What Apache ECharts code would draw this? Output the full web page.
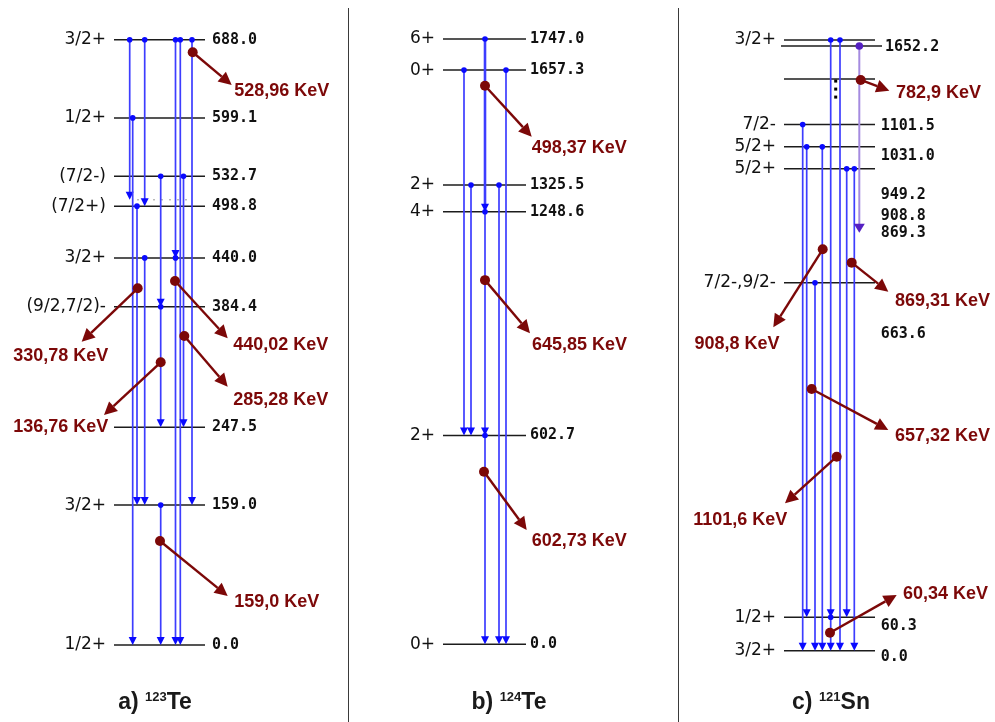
<!DOCTYPE html>
<html>
<head>
<meta charset="utf-8">
<script src="https://cdn.jsdelivr.net/npm/echarts@6/dist/echarts.min.js"></script>
<style>
  html, body { margin: 0; padding: 0; background: #ffffff; }
  #chart { width: 995px; height: 722px; }
</style>
</head>
<body>
<div id="chart"></div>
<script>
// ---------- 123Te level scheme ----------
const te123Levels = [688.0, 599.1, 532.7, 498.8, 440.0, 384.4, 247.5, 159.0, 0.0];
const te123Spins  = ['3/2+', '1/2+', '(7/2-)', '(7/2+)', '3/2+', '(9/2,7/2)-', '', '3/2+', '1/2+'];
const te123Dotted = [506.0];                       // unlabelled, dotted level
const te123From   = [688.0, 599.1, 498.8, 688.0, 440.0, 532.7, 384.4, 159.0, 688.0, 440.0, 688.0, 532.7, 688.0];
const te123To     = [506.0, 0.0,   159.0, 498.8, 159.0, 384.4, 247.5, 0.0,   440.0, 0.0,   0.0,   247.5, 159.0];
const te123Gammas = ['528,96 KeV', '330,78 KeV', '440,02 KeV', '285,28 KeV', '136,76 KeV', '159,0 KeV'];

// ---------- 124Te level scheme ----------
const te124Levels = [1747.0, 1657.3, 1325.5, 1248.6, 602.7, 0.0];
const te124Spins  = ['6+', '0+', '2+', '4+', '2+', '0+'];
const te124From   = [1747.0, 1248.6, 602.7, 1657.3, 1325.5, 1325.5, 1657.3];
const te124To     = [1248.6, 602.7,  0.0,   602.7,  602.7,  0.0,    0.0];
const te124Gammas = ['498,37 KeV', '645,85 KeV', '602,73 KeV'];

// ---------- 121Sn level scheme ----------
const sn121Levels = [1652.2, 1101.5, 1031.0, 949.2, 908.8, 869.3, 663.6, 60.3, 0.0];
const sn121Spins  = ['', '3/2+', '', '7/2-', '5/2+', '5/2+', '7/2-,9/2-', '1/2+', '3/2+'];
const sn121From   = [949.2, 908.8, 663.6, 908.8, 1101.5, 60.3, 1101.5, 869.3, 869.3, 1652.2];
const sn121To     = [0.0,   60.3,  0.0,   0.0,   60.3,   0.0,  0.0,    60.3,  0.0,   869.3];
const sn121Gammas = ['782,9 KeV', '869,31 KeV', '908,8 KeV', '657,32 KeV', '1101,6 KeV', '60,34 KeV'];

// panel captions
const captionTags    = ['a)', 'b)', 'c)'];
const captionMasses  = ['123', '124', '121'];
const captionSymbols = ['Te', 'Te', 'Sn'];

// ---------- styling ----------
const LEVEL_COLOR = '#1c1c1c';
const BLUE_LINE = '#3d3dff';
const BLUE_MARK = '#0a0aff';
const PURPLE_LINE = '#a58be0';
const PURPLE_MARK = '#5520c2';
const CALLOUT = '#7c0808';
const MONO = '"DejaVu Sans Mono", monospace';
const SPIN_FONT = '"DejaVu Sans", sans-serif';
const SANS = '"Liberation Sans", Arial, sans-serif';

// Levels above the axis break of the Sn scheme sit on the break line under the top.
const SN_BREAK_ABOVE = 1200;
const SN_BREAK_LINE = 1090.7;
const snAxis = e => (e > SN_BREAK_ABOVE ? SN_BREAK_LINE : e);
const linear = e => e;

// ---------- layout of each scheme (lanes are x positions inside a panel) ----------
const panels = [
  {
    grid: { left: 114, top: 39.7, width: 91, height: 605.3 }, xMax: 91, yMax: 688,
    axisY: linear, levels: te123Levels, spins: te123Spins, from: te123From, to: te123To,
    dotted: te123Dotted, dottedSpan: [23, 78], labelGap: 7,
    lanes: [15.7, 18.7, 23, 30.7, 30.7, 46.7, 46.7, 46.7, 61.5, 61.5, 66.3, 69.5, 78],
    gammas: te123Gammas,
    callouts: [
      { lane: 78.7, at: 673.7, d: [39, 32.7],   l: [2.5, 6],    align: 'left' },
      { lane: 23.7, at: 405.4, d: [-56, 53.4],  l: [26.6, 14.3], align: 'right' },
      { lane: 61,   at: 413.7, d: [52.7, 57.3], l: [5.6, 6.7],  align: 'left' },
      { lane: 70.3, at: 351.2, d: [43.4, 50.7], l: [5.6, 13.3], align: 'left' },
      { lane: 46.7, at: 321.3, d: [-56.7, 52.7], l: [4.3, 11.7], align: 'right' },
      { lane: 46,   at: 118.2, d: [67.7, 55],   l: [6.6, 6.3],  align: 'left' }
    ],
    caption: { x: 155, y: 703 }
  },
  {
    grid: { left: 443, top: 39, width: 83, height: 605.3 }, xMax: 83, yMax: 1747,
    axisY: linear, levels: te124Levels, spins: te124Spins, from: te124From, to: te124To,
    labelGap: 4,
    lanes: [42, 42, 42, 21, 28, 56, 63],
    heavy: [true, false, false, false, false, false, false],
    gammas: te124Gammas,
    callouts: [
      { lane: 42, at: 1612.1, d: [46.7, 51],   l: [0, 11], align: 'left' },
      { lane: 42, at: 1051.0, d: [45, 53],     l: [2, 12], align: 'left' },
      { lane: 41, at: 498.1,  d: [42.7, 58.3], l: [5, 11], align: 'left' }
    ],
    caption: { x: 509, y: 703 }
  },
  {
    grid: { left: 784, top: 40, width: 91, height: 610.7 }, xMax: 91, yMax: 1101.5,
    axisY: snAxis, levels: sn121Levels, spins: sn121Spins, from: sn121From, to: sn121To,
    labelGap: 5.7,
    spans: { 1652.2: [-3, 98] },
    breakMark: { level: 1031.0, lane: 51.7 },
    labelDy: [0.7, 86, 77, 70.5, 69, 64, 51, 8.4, 6.6],
    lanes: [18.7, 22.7, 31, 38.3, 46.7, 46.7, 56, 62.7, 70.3, 75.3],
    purple: [false, false, false, false, false, false, false, false, false, true],
    gammas: sn121Gammas,
    callouts: [
      { lane: 76.7, at: 1029.4, d: [28.6, 10.7],  l: [6.7, 2.6],   align: 'left' },
      { lane: 67.7, at: 699.9,  d: [36.6, 29],    l: [6.7, 9.3],   align: 'left' },
      { lane: 38.7, at: 724.0,  d: [-49.4, 78],   l: [-36.3, 16.7], align: 'center' },
      { lane: 27.7, at: 472.0,  d: [76.6, 41],    l: [6.7, 5.7],   align: 'left' },
      { lane: 52.7, at: 349.9,  d: [-51.7, 46.6], l: [-44.7, 16.7], align: 'center' },
      { lane: 46,   at: 32.5,   d: [66.7, -37.7], l: [6.3, -1],    align: 'left' }
    ],
    caption: { x: 831, y: 703 }
  }
];

// ---------- series builders ----------
function levelSeries(p, gi) {
  return {
    type: 'custom', xAxisIndex: gi, yAxisIndex: gi, silent: true, clip: false,
    data: p.levels.map(e => [0, p.axisY(e)]),
    renderItem(params, api) {
      const i = params.dataIndex;
      const e = p.levels[i];
      const y = api.coord([0, p.axisY(e)])[1];
      const span = (p.spans && p.spans[e]) || [0, p.xMax];
      const x0 = api.coord([span[0], 0])[0];
      const x1 = api.coord([span[1], 0])[0];
      const left = api.coord([0, 0])[0];
      const right = api.coord([p.xMax, 0])[0];
      const kids = [{
        type: 'line', shape: { x1: x0, y1: y, x2: x1, y2: y },
        style: { stroke: LEVEL_COLOR, lineWidth: 1.5 }
      }];
      if (p.spins[i]) {
        kids.push({ type: 'text', style: {
          text: p.spins[i], x: left - 8, y: y, align: 'right', verticalAlign: 'middle',
          font: '17px ' + SPIN_FONT, fill: '#111' } });
      }
      const dy = p.labelDy ? p.labelDy[i] : 0;
      const lx = Math.max(x1 + 3, right + p.labelGap);
      kids.push({ type: 'text', style: {
        text: e.toFixed(1), x: lx, y: y + dy, align: 'left', verticalAlign: 'middle',
        font: 'bold 15px ' + MONO, fill: '#111' } });
      if (p.breakMark && p.breakMark.level === e) {
        const bx = api.coord([p.breakMark.lane, 0])[0];
        for (let k = 0; k < 3; k++) {
          kids.push({ type: 'rect', shape: { x: bx - 1.5, y: y + 0.5 + k * 8, width: 3, height: 3 },
            style: { fill: '#000' } });
        }
      }
      return { type: 'group', children: kids };
    }
  };
}

function dottedSeries(p, gi) {
  return {
    type: 'custom', xAxisIndex: gi, yAxisIndex: gi, silent: true, clip: false,
    data: p.dotted.map(e => [p.dottedSpan[0], e]),
    renderItem(params, api) {
      const a = api.coord([p.dottedSpan[0], api.value(1)]);
      const b = api.coord([p.dottedSpan[1], api.value(1)]);
      return { type: 'line', shape: { x1: a[0], y1: a[1], x2: b[0], y2: b[1] },
        style: { stroke: '#9a9a9a', lineWidth: 1, lineDash: [2, 6] } };
    }
  };
}

function transitionSeries(p, gi) {
  return {
    type: 'custom', xAxisIndex: gi, yAxisIndex: gi, silent: true, clip: false, z: 3,
    data: p.from.map((f, i) => [p.lanes[i], p.axisY(f), p.axisY(p.to[i])]),
    renderItem(params, api) {
      const i = params.dataIndex;
      const top = api.coord([api.value(0), api.value(1)]);
      const bot = api.coord([api.value(0), api.value(2)]);
      const purple = p.purple && p.purple[i];
      const heavy = p.heavy && p.heavy[i];
      if (purple && p.labelDy) {
        // a gamma crossing the axis break points at the label of its final level
        bot[1] += p.labelDy[p.levels.indexOf(p.to[i])];
      }
      const x = top[0];
      const hw = purple ? 5.5 : 4, hh = purple ? 9 : 8;
      return { type: 'group', children: [
        { type: 'line', shape: { x1: x, y1: top[1], x2: x, y2: bot[1] - hh + 1 },
          style: { stroke: purple ? PURPLE_LINE : BLUE_LINE, lineWidth: purple ? 2 : (heavy ? 2.6 : 1.7) } },
        { type: 'circle', shape: { cx: x, cy: top[1], r: purple ? 3.8 : 2.8 },
          style: { fill: purple ? PURPLE_MARK : BLUE_MARK } },
        { type: 'polygon', shape: { points: [[x - hw, bot[1] - hh], [x + hw, bot[1] - hh], [x, bot[1]]] },
          style: { fill: purple ? PURPLE_MARK : BLUE_MARK } }
      ] };
    }
  };
}

function calloutSeries(p, gi) {
  return {
    type: 'custom', xAxisIndex: gi, yAxisIndex: gi, silent: true, clip: false, z: 5,
    data: p.callouts.map(c => [c.lane, c.at]),
    renderItem(params, api) {
      const c = p.callouts[params.dataIndex];
      const [x, y] = api.coord([api.value(0), api.value(1)]);
      const tx = x + c.d[0], ty = y + c.d[1];
      const len = Math.hypot(c.d[0], c.d[1]);
      const ux = c.d[0] / len, uy = c.d[1] / len;
      const hl = 13, hw = 6.5;
      const bx = tx - ux * hl, by = ty - uy * hl;
      return { type: 'group', children: [
        { type: 'line', shape: { x1: x, y1: y, x2: bx, y2: by },
          style: { stroke: CALLOUT, lineWidth: 2.4 } },
        { type: 'polygon', shape: { points: [[tx, ty], [bx - uy * hw, by + ux * hw], [bx + uy * hw, by - ux * hw]] },
          style: { fill: CALLOUT } },
        { type: 'circle', shape: { cx: x, cy: y, r: 5 }, style: { fill: CALLOUT } },
        { type: 'text', style: {
          text: p.gammas[params.dataIndex], x: tx + c.l[0], y: ty + c.l[1],
          align: c.align, verticalAlign: 'middle', font: 'bold 18px ' + SANS, fill: CALLOUT } }
      ] };
    }
  };
}

// ---------- assemble ----------
const grids = [], xAxes = [], yAxes = [], series = [];
panels.forEach((p, gi) => {
  grids.push(Object.assign({ containLabel: false }, p.grid));
  xAxes.push({ type: 'value', gridIndex: gi, min: 0, max: p.xMax, show: false });
  yAxes.push({ type: 'value', gridIndex: gi, min: 0, max: p.yMax, show: false });
  series.push(levelSeries(p, gi));
  if (p.dotted) series.push(dottedSeries(p, gi));
  series.push(transitionSeries(p, gi));
  series.push(calloutSeries(p, gi));
});

const graphic = [
  { type: 'line', shape: { x1: 348.5, y1: 8, x2: 348.5, y2: 722 }, style: { stroke: '#3a3a3a', lineWidth: 1 } },
  { type: 'line', shape: { x1: 678.5, y1: 8, x2: 678.5, y2: 722 }, style: { stroke: '#3a3a3a', lineWidth: 1 } }
];
panels.forEach((p, gi) => {
  graphic.push({
    type: 'text', x: p.caption.x, y: p.caption.y,
    style: {
      text: '{t|' + captionTags[gi] + ' }{s|' + captionMasses[gi] + '}{t|' + captionSymbols[gi] + '}',
      align: 'center', verticalAlign: 'middle',
      rich: {
        t: { font: 'bold 23px ' + SANS, fill: '#1a1a1a', lineHeight: 26 },
        s: { font: 'bold 13px ' + SANS, fill: '#1a1a1a', lineHeight: 26, padding: [0, 0, 12, 0] }
      }
    }
  });
});

const chart = echarts.init(document.getElementById('chart'), null, { renderer: 'canvas' });
chart.setOption({
  animation: false,
  backgroundColor: '#ffffff',
  grid: grids, xAxis: xAxes, yAxis: yAxes,
  series: series,
  graphic: graphic
});
</script>
</body>
</html>
